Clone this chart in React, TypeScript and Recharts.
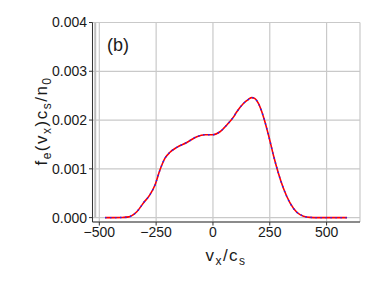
import { LineChart, Line, XAxis, YAxis, CartesianGrid, ReferenceLine } from 'recharts'

// velocity v_x/c_s
const vx = [
  -475, -440, -400, -370, -357, -335, -306, -277, -255, -233, -211, -189, -159, -115, -71, -35, 0,
  31, 61, 90, 105, 134, 155, 171, 185, 200, 222, 244, 266, 288, 310, 339, 369, 398, 427, 460,
  500, 550, 590
]
// f_e(v_x) c_s / n_0 (in units of 1e-3)
const fe = [
  0, 0, 0.003, 0.015, 0.04, 0.12, 0.3, 0.47, 0.67, 0.98, 1.22, 1.34, 1.44, 1.54, 1.66, 1.7, 1.7,
  1.76, 1.9, 2.06, 2.17, 2.34, 2.42, 2.46, 2.44, 2.34, 2.07, 1.7, 1.28, 0.91, 0.6, 0.3, 0.11, 0.03,
  0.005, 0, 0, 0, 0
]
const xTicks = [-500, -250, 0, 250, 500]
const yTicks = [0, 0.001, 0.002, 0.003, 0.004]

const data = vx.map((v, i) => ({ v, f: fe[i] / 1000 }))

const FONT = '"Liberation Sans", Arial, sans-serif'
const tickStyle = { fontSize: 14, fill: '#1a1a1a', fontFamily: FONT }

export default function App() {
  return (
    <div style={{ position: 'absolute', left: 0, top: 0, width: 382, height: 287 }}>
      <LineChart
        width={382}
        height={287}
        data={data}
        margin={{ top: 22.5, right: 22, bottom: 35, left: 0 }}
      >
        <CartesianGrid stroke="#c9c9c9" strokeWidth={1.2} />
        <XAxis
          dataKey="v"
          type="number"
          domain={[-530, 647]}
          ticks={xTicks}
          allowDataOverflow
          height={30}
          tickSize={3.5}
          tickMargin={2}
          tick={tickStyle}
          stroke="#333"
          tickFormatter={(t: number) => (t < 0 ? '\u2212' + Math.abs(t) : String(t))}
        />
        <XAxis xAxisId="top" orientation="top" dataKey="v" type="number" domain={[-530, 647]} height={0} tick={false} tickLine={false} stroke="#333" />
        <YAxis
          type="number"
          domain={[-0.00009, 0.004]}
          ticks={yTicks}
          allowDataOverflow
          width={92.5}
          tickSize={3.5}
          tickMargin={2}
          tick={tickStyle}
          stroke="#333"
          tickFormatter={(t: number) => t.toFixed(3)}
        />
        <YAxis yAxisId="right" orientation="right" domain={[-0.00009, 0.004]} width={0} tick={false} tickLine={false} stroke="#333" />
        <ReferenceLine
          segment={[{ x: -518, y: 0 }, { x: -518, y: 0.004 }]}
          stroke="#bdbdbd"
          strokeWidth={2}
        />
        <Line type="monotone" dataKey="f" stroke="#ff0000" strokeWidth={1.6} dot={false} isAnimationActive={false} />
        <Line type="monotone" dataKey="f" stroke="#2020ff" strokeWidth={1.4} strokeDasharray="1.5 3.5" dot={false} isAnimationActive={false} />
      </LineChart>
      <svg width={382} height={287} style={{ position: 'absolute', left: 0, top: 0, pointerEvents: 'none' }}>
        <text x={107} y={51} fontSize={18} fontFamily={FONT} fill="#1a1a1a">(b)</text>
        <text x={226} y={261} fontSize={17} fontFamily={FONT} fill="#1a1a1a" textAnchor="middle" letterSpacing={1.5}>
          v<tspan fontSize={12} dy={4}>x</tspan>
          <tspan dy={-4}>/c</tspan>
          <tspan fontSize={12} dy={4}>s</tspan>
        </text>
        <text
          transform="translate(46.5,121) rotate(-90)"
          fontSize={17}
          fontFamily={FONT}
          fill="#1a1a1a"
          textAnchor="middle"
          letterSpacing={1.5}
        >
          f<tspan fontSize={12} dy={4}>e</tspan>
          <tspan dy={-4}>(v</tspan>
          <tspan fontSize={12} dy={4}>x</tspan>
          <tspan dy={-4}>)c</tspan>
          <tspan fontSize={12} dy={4}>s</tspan>
          <tspan dy={-4}>/n</tspan>
          <tspan fontSize={12} dy={4}>0</tspan>
        </text>
      </svg>
    </div>
  )
}
